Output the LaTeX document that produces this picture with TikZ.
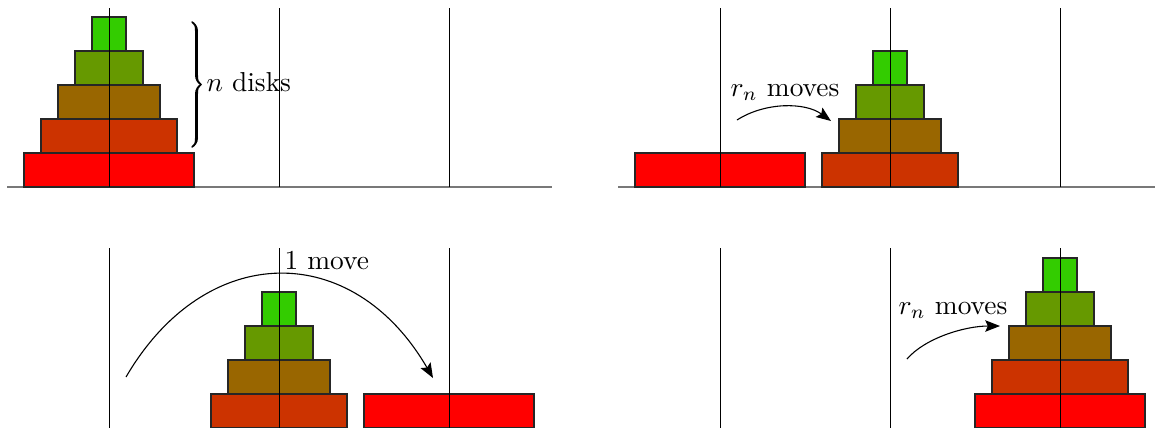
\documentclass[tikz,border=0pt]{standalone}
\usetikzlibrary{arrows.meta,decorations.pathreplacing,calligraphy}
\definecolor{c1}{RGB}{51,204,0}
\definecolor{c2}{RGB}{102,153,0}
\definecolor{c3}{RGB}{153,102,0}
\definecolor{c4}{RGB}{204,51,0}
\definecolor{c5}{RGB}{255,0,0}
\definecolor{groundgray}{RGB}{120,120,120}
\tikzset{
  ground/.style={draw=groundgray, line width=0.75pt},
  peg/.style={draw=black, line width=0.32pt},
  disk/.style={draw=black!85, line width=0.4pt},
  movearrow/.style={-{Stealth[length=5.4pt,width=4.2pt,inset=1pt]}, line width=0.4pt},
  lbl/.style={anchor=base west, inner sep=0pt},
}
\newcommand\hdisk[3]{\draw[disk, fill=c#3] ({#1-17*#3}, #2) rectangle ({#1+17*#3}, {#2-34});}
\newcommand\hpegs[3]{%
  \draw[peg] (#1, #3) -- (#1, #2);
  \draw[peg] ({#1+170}, #3) -- ({#1+170}, #2);
  \draw[peg] ({#1+340}, #3) -- ({#1+340}, #2);}
\begin{document}
\begin{tikzpicture}[x=0.365pt, y=-0.365pt]
\useasboundingbox (0,0) rectangle (1155,427);
% ground lines
\draw[ground] (7,187) -- (552,187);
\draw[ground] (618,187) -- (1163,187);
% top-left: all disks on peg 1
\hdisk{109}{187}{5}
\hdisk{109}{153}{4}
\hdisk{109}{119}{3}
\hdisk{109}{85}{2}
\hdisk{109}{51}{1}
% top-right
\hdisk{720}{187}{5}
\hdisk{890}{187}{4}
\hdisk{890}{153}{3}
\hdisk{890}{119}{2}
\hdisk{890}{85}{1}
% bottom-left
\hdisk{279}{428}{4}
\hdisk{279}{394}{3}
\hdisk{279}{360}{2}
\hdisk{279}{326}{1}
\hdisk{449}{428}{5}
% bottom-right
\hdisk{1060}{428}{5}
\hdisk{1060}{394}{4}
\hdisk{1060}{360}{3}
\hdisk{1060}{326}{2}
\hdisk{1060}{292}{1}
% pegs
\hpegs{109}{187}{8}
\hpegs{720}{187}{8}
\hpegs{109}{428}{248}
\hpegs{720}{428}{248}
% brace and labels
\coordinate (bt) at (192,22);
\coordinate (bb) at (192,147);
\draw[decorate, decoration={calligraphic brace, amplitude=3.3pt}, line width=1.1pt] (bt) -- (bb);
\node[lbl] (t1) at (206,91) {$n$ disks};
\node[lbl] (t2) at (730,96) {$r_n$ moves};
\node[lbl] (t3) at (284,269) {1 move};
\node[lbl] (t4) at (898,314) {$r_n$ moves};
% arrows
\coordinate (a1s) at (737,120);
\coordinate (a1e) at (831,121);
\draw[movearrow] (a1s) .. controls (765,102) and (805,102) .. (a1e);
\coordinate (a2s) at (126,377);
\coordinate (a2e) at (433,378);
\draw[movearrow] (a2s) .. controls (206,240) and (353,240) .. (a2e);
\coordinate (a3s) at (907,359);
\coordinate (a3e) at (1000,326);
\draw[movearrow] (a3s) .. controls (925,338) and (965,326) .. (a3e);
\end{tikzpicture}
\end{document}
